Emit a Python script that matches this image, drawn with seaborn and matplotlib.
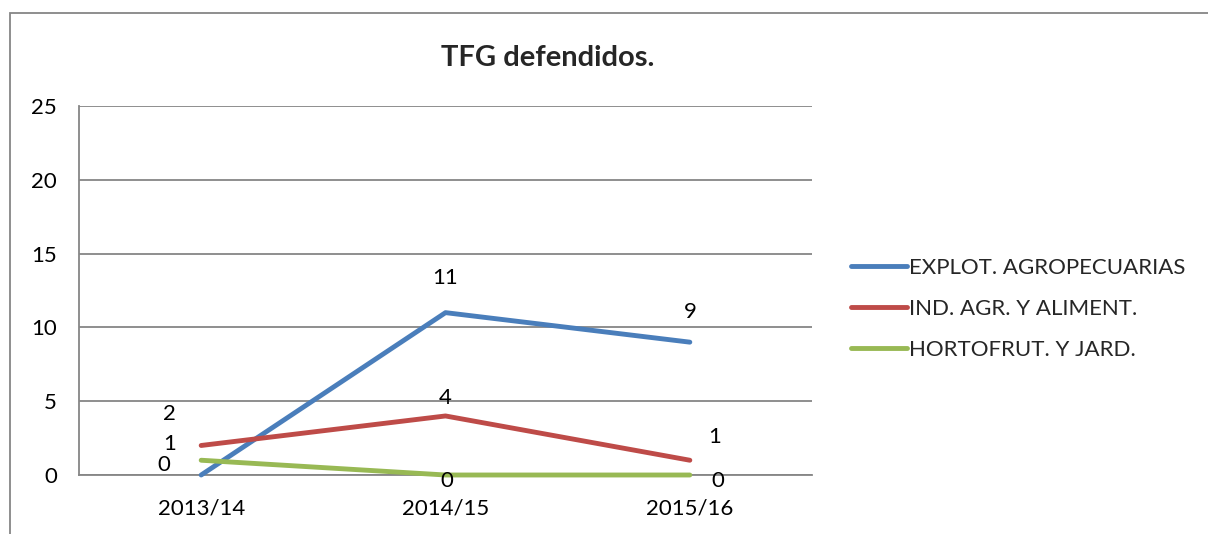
import pandas as pd
import seaborn as sns
import matplotlib.pyplot as plt
from matplotlib.patches import Rectangle

# Data
years = ["2013/14", "2014/15", "2015/16"]
explot = [0, 11, 9]
ind_agr = [2, 4, 1]
hortofrut = [1, 0, 0]
series_names = ["EXPLOT. AGROPECUARIAS", "IND. AGR. Y ALIMENT.", "HORTOFRUT. Y JARD."]

colors = ["#4A7EBB", "#BE4B48", "#98B954"]
grid_col = "#868686"

df = pd.DataFrame({
    "year": years * 3,
    "pos": list(range(len(years))) * 3,
    "value": explot + ind_agr + hortofrut,
    "serie": [s for s in series_names for _ in years],
})

sns.set_theme(style="white")
plt.rcParams["font.family"] = ["Lato", "DejaVu Sans"]

fig = plt.figure(figsize=(12.08, 5.34), dpi=100)
ax = fig.add_axes([79 / 1208, 59 / 534, (812 - 79) / 1208, (475 - 106) / 534])

sns.lineplot(data=df, x="pos", y="value", hue="serie", hue_order=series_names,
             palette=colors, linewidth=3.5, ax=ax, legend=True)
for ln in ax.get_lines():
    ln.set_solid_capstyle("round")
    ln.set_clip_on(False)
    ln.set_zorder(5)

ax.set_xlim(-0.5, 2.5)
ax.set_ylim(0, 25)
ax.set_yticks([0, 5, 10, 15, 20, 25])
ax.set_xticks(range(len(years)))
ax.set_xticklabels(years)
ax.set_xlabel("")
ax.set_ylabel("")
ax.yaxis.grid(True, color=grid_col, linewidth=1.3)
ax.set_axisbelow(True)
ax.tick_params(axis="y", length=0, pad=16, labelsize=16, colors="black")
ax.tick_params(axis="x", length=0, pad=17, labelsize=16, colors="black")
for side in ["top", "right"]:
    ax.spines[side].set_visible(False)
for side in ["left", "bottom"]:
    ax.spines[side].set_color(grid_col)
    ax.spines[side].set_linewidth(1.3)
    ax.spines[side].set_zorder(1)

# data labels, offsets in points for each series/category
offsets = {
    0: [(-27, 7), (0, 25), (0, 22)],
    1: [(-23, 23), (0, 13), (18, 17)],
    2: [(-23, 12), (1, -4), (20, -4)],
}
for i, vals in enumerate([explot, ind_agr, hortofrut]):
    for j, v in enumerate(vals):
        ax.annotate(str(v), (j, v), xytext=offsets[i][j], textcoords="offset points",
                    ha="center", va="center", fontsize=16, color="black", zorder=6)

handles, labels = ax.get_legend_handles_labels()
leg = ax.legend(handles, labels, loc="center left", bbox_to_anchor=(851 / 1208, 1 - 309 / 534),
                bbox_transform=fig.transFigure, frameon=False, fontsize=16, handlelength=2.5,
                handletextpad=0.1, labelspacing=0.95, borderpad=0, borderaxespad=0)
for h in leg.get_lines():
    h.set_linewidth(3.5)
    h.set_solid_capstyle("round")

fig.text(548 / 1208, 1 - 58 / 534, "TFG defendidos.", ha="center", va="center",
         fontsize=21, fontweight="bold")

top = 1 - 13.5 / 534
fig.patches.append(Rectangle((9.5 / 1208, -0.2), 1.2, top + 0.2,
                             transform=fig.transFigure, fill=False,
                             edgecolor=grid_col, linewidth=1.3, clip_on=False))

fig.savefig("out.png", dpi=100, facecolor="white")
